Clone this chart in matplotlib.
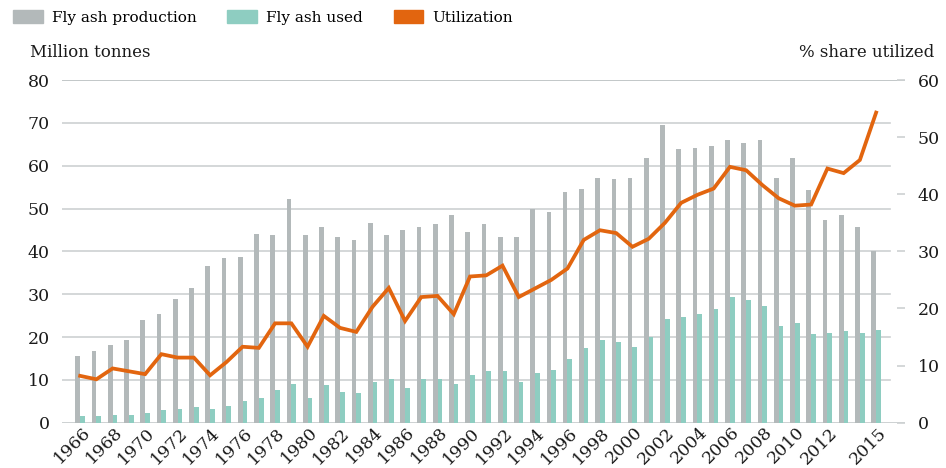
import matplotlib

matplotlib.use("Agg")
import matplotlib.pyplot as plt
import matplotlib.transforms as mtransforms
import numpy as np

# Data
YEARS = list(range(1966, 2016))

# Million tonnes
PRODUCTION = [
    15.6, 16.8, 18.2, 19.3, 24.0, 25.4, 28.9, 31.5, 36.6, 38.5,
    38.7, 44.1, 43.9, 52.3, 43.9, 45.8, 43.4, 42.7, 46.7, 43.9,
    45.1, 45.8, 46.5, 48.6, 44.6, 46.5, 43.4, 43.4, 50.0, 49.3,
    53.9, 54.6, 57.2, 57.0, 57.2, 61.9, 69.6, 63.8, 64.2, 64.5,
    65.9, 65.2, 65.9, 57.2, 61.7, 54.4, 47.4, 48.6, 45.8, 40.1,
]
USED = [
    1.6, 1.6, 1.8, 1.8, 2.3, 3.0, 3.2, 3.7, 3.2, 3.9,
    5.1, 5.8, 7.6, 9.0, 5.8, 8.8, 7.2, 6.9, 9.5, 10.1,
    8.1, 10.1, 10.1, 9.0, 11.1, 12.1, 12.1, 9.5, 11.6, 12.3,
    14.9, 17.5, 19.3, 18.9, 17.7, 20.0, 24.2, 24.7, 25.4, 26.6,
    29.4, 28.7, 27.3, 22.6, 23.3, 20.7, 21.0, 21.4, 21.0, 21.7,
]
# % share utilized
UTILIZATION = [
    8.2, 7.6, 9.5, 9.0, 8.5, 12.0, 11.4, 11.4, 8.3, 10.6,
    13.3, 13.1, 17.4, 17.4, 13.3, 18.7, 16.6, 15.9, 20.3, 23.6,
    17.8, 22.0, 22.2, 19.0, 25.6, 25.8, 27.5, 22.0, 23.5, 25.0,
    27.0, 32.0, 33.7, 33.2, 30.8, 32.2, 35.0, 38.5, 39.9, 41.0,
    44.8, 44.2, 41.6, 39.3, 38.0, 38.2, 44.5, 43.7, 46.0, 54.3,
]
TICK_YEARS = list(range(1966, 2013, 2)) + [2015]

GRAY = "#b3b9ba"
TEAL = "#8ecdc1"
ORANGE = "#e2650f"
GRID = "#cdd1d2"
TEXT = "#1a1a1a"
FONT = "DejaVu Serif"

plt.rcParams["font.family"] = FONT
plt.rcParams["font.size"] = 11

fig = plt.figure(figsize=(9.46, 4.68), dpi=100)
ax = fig.add_axes([0.0655, 0.0968, 0.8912, 0.7322])
ax2 = ax.twinx()

x = np.arange(len(YEARS))
bw = 0.29
ax.bar(x - bw / 2, PRODUCTION, width=bw, color=GRAY, zorder=2)
ax.bar(x + bw / 2, USED, width=bw, color=TEAL, zorder=2)
ax2.plot(x, UTILIZATION, color=ORANGE, lw=2.7, solid_joinstyle="miter", zorder=3)

ax.set_xlim(-1.12, len(YEARS) - 1 + 1.78)
ax.set_ylim(0, 80)
ax2.set_ylim(0, 60)

# grid lines (left axis), inner ones stop short of the right tick marks
for v in range(10, 80, 10):
    ax.axhline(v, xmin=0, xmax=0.982, color=GRID, lw=1.2, zorder=1)
ax.axhline(0, color=GRID, lw=1.4, zorder=1)
ax.axhline(80, color="#b8bdbf", lw=1.2, zorder=1)

for a in (ax, ax2):
    for s in a.spines.values():
        s.set_visible(False)

ax.set_yticks(range(0, 81, 10))
ax.tick_params(axis="y", length=0, pad=9, labelsize=12.5, labelcolor=TEXT)
ax2.set_yticks(range(0, 61, 10))
ax2.tick_params(axis="y", direction="in", length=6, width=1.2, color=GRID,
                pad=9, labelsize=12.5, labelcolor=TEXT)

ax.set_xticks([YEARS.index(y) for y in TICK_YEARS])
ax.set_xticklabels([str(y) for y in TICK_YEARS], rotation=45, ha="right",
                   rotation_mode="anchor", fontsize=12.5, color=TEXT)
ax.tick_params(axis="x", length=0, pad=1)
offset = mtransforms.ScaledTranslation(1 / 72, 0, fig.dpi_scale_trans)
for lbl in ax.get_xticklabels():
    lbl.set_transform(lbl.get_transform() + offset)

fig.text(0.032, 0.888, "Million tonnes", fontsize=12, color=TEXT, va="center")
fig.text(0.988, 0.888, "% share utilized", fontsize=12, color=TEXT, va="center", ha="right")

# legend
handles = [
    plt.Rectangle((0, 0), 1, 1, color=GRAY),
    plt.Rectangle((0, 0), 1, 1, color=TEAL),
    plt.Rectangle((0, 0), 1, 1, color=ORANGE),
]
fig.legend(handles, ["Fly ash production", "Fly ash used", "Utilization"],
           loc="upper left", bbox_to_anchor=(13 / 946, 1 - 10 / 468), ncol=3,
           frameon=False, borderpad=0, borderaxespad=0,
           fontsize=11, handlelength=1.95, handleheight=0.95, handletextpad=0.6,
           columnspacing=2.0)

fig.savefig("out.png", dpi=100, facecolor="white")
